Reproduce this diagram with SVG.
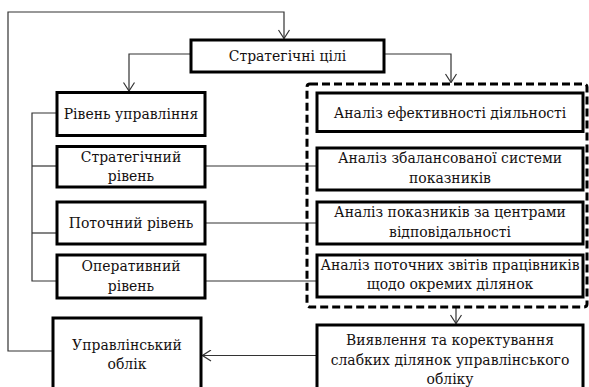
<svg xmlns="http://www.w3.org/2000/svg" width="589" height="387" viewBox="0 0 589 387">
<style>
.box{fill:#fff;stroke:#000;stroke-width:3}
.dash{fill:none;stroke:#000;stroke-width:3;stroke-dasharray:8,4}
.ln{fill:none;stroke:#333;stroke-width:1.2}
.t{font-family:'DejaVu Serif Condensed','DejaVu Serif',serif;font-stretch:condensed;font-size:15.5px;fill:#141010;text-anchor:middle}
</style>
<defs>
<marker id="arr" viewBox="0 0 10 12" markerWidth="10" markerHeight="12" refX="9.5" refY="6" orient="auto" markerUnits="userSpaceOnUse">
<path d="M1,0.5 L9.5,6 L1,11.5" fill="none" stroke="#333" stroke-width="1.2"/>
</marker>
</defs>
<rect x="0" y="0" width="589" height="387" fill="#fff"/>
<g id="connectors">
<path class="ln" d="M53,351 H8 V12 H284 V38.5" marker-end="url(#arr)"/>
<path class="ln" d="M191,54 H129 V91" marker-end="url(#arr)"/>
<path class="ln" d="M384,54 H451 V82.5" marker-end="url(#arr)"/>
<path class="ln" d="M456,307 V323.5" marker-end="url(#arr)"/>
<path class="ln" d="M317,355.5 H202.5" marker-end="url(#arr)"/>
<path class="ln" d="M57,113 H32 V281 H57"/>
<path class="ln" d="M32,166 H57"/>
<path class="ln" d="M32,233 H57"/>
<path class="ln" d="M205,166 H317"/>
<path class="ln" d="M205,223 H317"/>
<path class="ln" d="M205,281 H317"/>
</g>
<g id="dashed-group">
<rect class="dash" x="307" y="84" width="280" height="223" rx="3"/>
</g>
<g id="strategic-goals">
<rect class="box" x="191" y="40" width="193" height="32"/>
<text class="t" x="287.5" y="61">Стратегічні цілі</text>
</g>
<g id="management-level">
<rect class="box" x="57" y="92.5" width="148" height="43"/>
<text class="t" x="131" y="119">Рівень управління</text>
</g>
<g id="strategic-level">
<rect class="box" x="57" y="146.5" width="148" height="40.5"/>
<text class="t" x="131" y="162">Стратегічний</text>
<text class="t" x="131" y="181">рівень</text>
</g>
<g id="current-level">
<rect class="box" x="57" y="202" width="148" height="42"/>
<text class="t" x="131" y="228">Поточний рівень</text>
</g>
<g id="operative-level">
<rect class="box" x="57" y="255" width="148" height="43"/>
<text class="t" x="131" y="271">Оперативний</text>
<text class="t" x="131" y="291">рівень</text>
</g>
<g id="management-accounting">
<rect class="box" x="53" y="318" width="148" height="80"/>
<text class="t" x="127" y="350">Управлінський</text>
<text class="t" x="127" y="369">облік</text>
</g>
<g id="efficiency-analysis">
<rect class="box" x="317" y="93" width="266" height="38.5"/>
<text class="t" x="450" y="118">Аналіз ефективності діяльності</text>
</g>
<g id="bsc-analysis">
<rect class="box" x="317" y="148" width="266" height="42"/>
<text class="t" x="450" y="163">Аналіз збалансованої системи</text>
<text class="t" x="450" y="183">показників</text>
</g>
<g id="responsibility-analysis">
<rect class="box" x="317" y="202" width="266" height="42"/>
<text class="t" x="450" y="217">Аналіз показників за центрами</text>
<text class="t" x="450" y="237">відповідальності</text>
</g>
<g id="reports-analysis">
<rect class="box" x="317" y="255" width="266" height="42"/>
<text class="t" x="450" y="270">Аналіз поточних звітів працівників</text>
<text class="t" x="450" y="289">щодо окремих ділянок</text>
</g>
<g id="weak-areas">
<rect class="box" x="317" y="325" width="266" height="75"/>
<text class="t" x="450" y="345">Виявлення та коректування</text>
<text class="t" x="450" y="365">слабких ділянок управлінського</text>
<text class="t" x="450" y="384">обліку</text>
</g>
</svg>
